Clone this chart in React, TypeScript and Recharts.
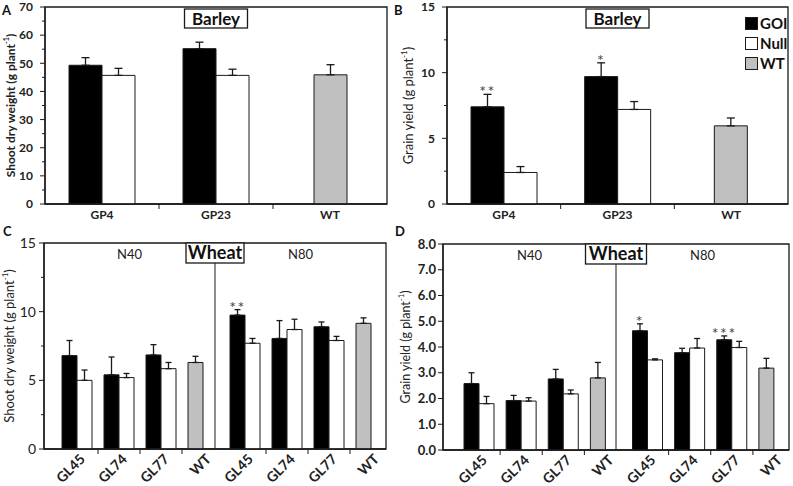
// Barley / wheat GOI vs null vs WT — four bar panels
import React from 'react';
import {
  BarChart, Bar, XAxis, YAxis, ErrorBar, LabelList, ReferenceArea, ReferenceLine, Cell, Legend,
} from 'recharts';

const FONT = 'Lato, "Noto Sans", sans-serif';
const INK = '#1a1a1a';
const GREY = '#c0c0c0';

// ---------- barley (A, B) ----------
const barleyLines = ['GP4', 'GP23', 'WT'];

const shootBarleyGoi = [49.3, 55.2, null];
const shootBarleyGoiSe = [2.7, 2.3, null];
const shootBarleyNull = [45.7, 45.7, null];
const shootBarleyNullSe = [2.5, 2.2, null];
const shootBarleyWt = [null, null, 45.9];
const shootBarleyWtSe = [null, null, 3.6];
const shootBarleySig = ['', '', ''];

const grainBarleyGoi = [7.4, 9.7, null];
const grainBarleyGoiSe = [0.95, 1.05, null];
const grainBarleyNull = [2.4, 7.2, null];
const grainBarleyNullSe = [0.45, 0.6, null];
const grainBarleyWt = [null, null, 5.95];
const grainBarleyWtSe = [null, null, 0.6];
const grainBarleySig = ['**', '*', ''];

// ---------- wheat (C, D) ----------
const wheatGroups = ['N40', 'N80'];
const wheatLines = ['GL45', 'GL74', 'GL77', 'WT'];

const shootWheatGoi = [6.8, 5.4, 6.85, null, 9.75, 8.05, 8.9, null];
const shootWheatGoiSe = [1.1, 1.3, 0.75, null, 0.4, 1.3, 0.35, null];
const shootWheatNull = [5.0, 5.2, 5.85, null, 7.7, 8.7, 7.9, null];
const shootWheatNullSe = [0.75, 0.3, 0.45, null, 0.35, 0.75, 0.3, null];
const shootWheatWt = [null, null, null, 6.3, null, null, null, 9.15];
const shootWheatWtSe = [null, null, null, 0.45, null, null, null, 0.4];
const shootWheatSig = ['', '', '', '', '**', '', '', ''];

const grainWheatGoi = [2.58, 1.92, 2.76, null, 4.63, 3.78, 4.28, null];
const grainWheatGoiSe = [0.42, 0.2, 0.37, null, 0.27, 0.17, 0.15, null];
const grainWheatNull = [1.8, 1.9, 2.18, null, 3.5, 3.96, 3.98, null];
const grainWheatNullSe = [0.28, 0.13, 0.15, null, 0.04, 0.37, 0.24, null];
const grainWheatWt = [null, null, null, 2.8, null, null, null, 3.18];
const grainWheatWtSe = [null, null, null, 0.6, null, null, null, 0.38];
const grainWheatSig = ['', '', '', '', '*', '', '***', ''];

const barleySeries = [
  { key: 'goi', name: 'GOI', fill: '#000000' },
  { key: 'nul', name: 'Null', fill: '#ffffff' },
  { key: 'wt', name: 'WT', fill: GREY },
];

// error bars only go up
const upOnly = (v: number | null) => (v == null ? undefined : [0, v]);

function barleyRows(goi, goiSe, nul, nulSe, wt, wtSe, sig) {
  return barleyLines.map((name, i) => ({
    key: name,
    label: name,
    goi: goi[i], goiSe: upOnly(goiSe[i]),
    nul: nul[i], nulSe: upOnly(nulSe[i]),
    wt: wt[i], wtSe: upOnly(wtSe[i]),
    starValue: goi[i], starSe: goiSe[i] ?? 0,
    sig: sig[i],
  }));
}

// WT sits in the GOI slot (grey) like the original spreadsheet
function wheatRows(goi, goiSe, nul, nulSe, wt, wtSe, sig) {
  return goi.map((_, i) => {
    const group = wheatGroups[Math.floor(i / wheatLines.length)];
    const line = wheatLines[i % wheatLines.length];
    const isWt = wt[i] != null;
    const left = isWt ? wt[i] : goi[i];
    const leftSe = isWt ? wtSe[i] : goiSe[i];
    return {
      key: `${group}-${line}`,
      label: line,
      isWt,
      left, leftSe: upOnly(leftSe),
      nul: nul[i], nulSe: upOnly(nulSe[i]),
      starValue: left, starSe: leftSe ?? 0,
      sig: sig[i],
    };
  });
}

const shootBarley = barleyRows(shootBarleyGoi, shootBarleyGoiSe, shootBarleyNull, shootBarleyNullSe, shootBarleyWt, shootBarleyWtSe, shootBarleySig);
const grainBarley = barleyRows(grainBarleyGoi, grainBarleyGoiSe, grainBarleyNull, grainBarleyNullSe, grainBarleyWt, grainBarleyWtSe, grainBarleySig);
const shootWheat = wheatRows(shootWheatGoi, shootWheatGoiSe, shootWheatNull, shootWheatNullSe, shootWheatWt, shootWheatWtSe, shootWheatSig);
const grainWheat = wheatRows(grainWheatGoi, grainWheatGoiSe, grainWheatNull, grainWheatNullSe, grainWheatWt, grainWheatWtSe, grainWheatSig);

const stepTicks = (max: number, step: number) => {
  const out: number[] = [];
  for (let i = 0; i * step <= max + 1e-9; i++) out.push(+(i * step).toFixed(3));
  return out;
};

// y tick: long mark + label on majors, short mark on minors
const yTick = (major: number, decimals: number, size: number, bold: boolean, gap: number) => (p: any) => {
  const v = p.payload.value;
  const isMajor = Math.abs(v / major - Math.round(v / major)) < 1e-6;
  return (
    <g>
      <line x1={p.x} x2={p.x - (isMajor ? 5 : 3)} y1={p.y} y2={p.y} stroke={INK} strokeWidth={1} />
      {isMajor && (
        <text x={p.x - gap} y={p.y} dy="0.36em" textAnchor="end" fontSize={size}
          fontWeight={bold ? 700 : 400} fontFamily={FONT} fill="#222">
          {v.toFixed(decimals)}
        </text>
      )}
    </g>
  );
};

const yLabel = (text: string, dx: number, size: number, bold: boolean) => (p: any) => {
  const vb = p.viewBox;
  const cx = vb.x + dx;
  const cy = vb.y + vb.height / 2;
  return (
    <text transform={`translate(${cx},${cy}) rotate(-90)`} textAnchor="middle" dominantBaseline="central"
      fontSize={size} fontWeight={bold ? 700 : 400} fontFamily={FONT} fill="#222">
      {text}
      <tspan dy={-4} fontSize={size * 0.62}>-1</tspan>
      <tspan dy={4}>)</tspan>
    </text>
  );
};

const stars = (rows: any[]) => (p: any) => {
  const vb = p.viewBox ?? p;
  const row = rows[p.index];
  if (!row || !row.sig || !row.starValue) return null;
  const perUnit = Math.abs(vb.height) / row.starValue;
  const capY = Math.min(vb.y, vb.y + vb.height) - row.starSe * perUnit;
  return (
    <text x={vb.x + vb.width / 2} y={capY + 3} textAnchor="middle" fontSize={16} letterSpacing={1.5}
      fontFamily={FONT} fill="#444">
      {row.sig}
    </text>
  );
};

const titleBox = (text: string, w: number, h: number, size: number, dy: number) => (p: any) => {
  const vb = p.viewBox;
  const cx = vb.x + (vb.width || 0) / 2;
  const top = vb.y + dy;
  return (
    <g>
      <rect x={cx - w / 2} y={top} width={w} height={h} fill="#fff" stroke={INK} strokeWidth={1.3} />
      <text x={cx} y={top + h / 2} dy="0.36em" textAnchor="middle" fontSize={size} fontWeight={700}
        fontFamily={FONT} fill="#111">{text}</text>
    </g>
  );
};

const legendList = (p: any) => (
  <div style={{ fontFamily: FONT, fontSize: 15, fontWeight: 700, color: '#111' }}>
    {(p.payload || []).map((it: any) => (
      <div key={it.value} style={{ display: 'flex', alignItems: 'center', height: 20 }}>
        <span style={{ width: 11, height: 11, background: it.color, border: `1px solid ${INK}`, marginRight: 2 }} />
        <span>{it.value}</span>
      </div>
    ))}
  </div>
);

function BarleyPanel({ x, y, w, h, m, rows, yMax, yStep, major, tickSize, tickGap, label, labelDx, labelSize, labelBold, legend }: any) {
  const plotW = w - m.left - m.right;
  const n = rows.length;
  const band = plotW / n;
  const xTick = (p: any) => {
    const i = p.index ?? p.payload.index;
    return (
      <g>
        {i < n - 1 && <line x1={p.x + band / 2} x2={p.x + band / 2} y1={p.y} y2={p.y + 5} stroke={INK} />}
        <text x={p.x} y={p.y + 15} textAnchor="middle" fontSize={12} fontWeight={700} fontFamily={FONT} fill="#222">
          {p.payload.value}
        </text>
      </g>
    );
  };
  return (
    <div style={{ position: 'absolute', left: x, top: y }}>
      <BarChart width={w} height={h} data={rows} barGap={0}
        margin={{ top: m.top, right: m.right, left: 0, bottom: 0 }}>
        <XAxis xAxisId="cat" dataKey="key" height={m.bottom} interval={0} tickLine={false} tickSize={0}
          tickMargin={0} axisLine={{ stroke: INK, strokeWidth: 1.3 }} tick={xTick} />
        <XAxis xAxisId="wt" dataKey="key" hide />
        <YAxis width={m.left} domain={[0, yMax]} ticks={stepTicks(yMax, yStep)} interval={0} tickLine={false}
          tickSize={0} tickMargin={0} axisLine={{ stroke: INK, strokeWidth: 1.3 }}
          tick={yTick(major, 0, tickSize, true, tickGap)} label={yLabel(label, labelDx, labelSize, labelBold)} />
        <ReferenceArea xAxisId="wt" x1={rows[0].key} x2={rows[n - 1].key} y1={0} y2={yMax} fill="none"
          fillOpacity={0} stroke={INK} strokeWidth={1.3} ifOverflow="visible"
          label={titleBox('Barley', 63, 19, 17, 2)} />
        {barleySeries.map((s) => (
          <Bar key={s.key} xAxisId={s.key === 'wt' ? 'wt' : 'cat'} dataKey={s.key} name={s.name} fill={s.fill}
            stroke={INK} strokeWidth={1} barSize={33} isAnimationActive={false}>
            <ErrorBar dataKey={`${s.key}Se`} width={4} stroke={INK} strokeWidth={1.3} direction="y" />
            {s.key === 'goi' && <LabelList content={stars(rows)} />}
          </Bar>
        ))}
        {legend && (
          <Legend layout="vertical" align="center" verticalAlign="middle" content={legendList}
            wrapperStyle={{ left: 350, top: 13, width: 50, height: 62 }} />
        )}
      </BarChart>
    </div>
  );
}

function WheatPanel({ x, y, w, h, m, pad, rows, yMax, yStep, major, decimals, tickSize, tickBold, tickGap, label, labelDx, labelSize, boxW }: any) {
  const plotW = w - m.left - m.right;
  const n = rows.length;
  const per = wheatLines.length;
  const band = (plotW - pad.left - pad.right) / n;
  const xTick = (p: any) => {
    const i = p.index ?? p.payload.index;
    const row = rows[i];
    return (
      <g>
        {i % per !== per - 1 && (
          <line x1={p.x + band / 2} x2={p.x + band / 2} y1={p.y} y2={p.y + 5} stroke={INK} />
        )}
        <text transform={`translate(${p.x + 9},${p.y + 11}) rotate(-45)`} textAnchor="end" fontSize={14}
          fontWeight={700} fontFamily={FONT} fill="#222">
          {row ? row.label : ''}
        </text>
      </g>
    );
  };
  const groupKey = (g: string, line: string) => `${g}-${line}`;
  return (
    <div style={{ position: 'absolute', left: x, top: y }}>
      <BarChart width={w} height={h} data={rows} barGap={0}
        margin={{ top: m.top, right: m.right, left: 0, bottom: 0 }}>
        <XAxis xAxisId="cat" dataKey="key" height={m.bottom} padding={pad} interval={0} tickLine={false}
          tickSize={0} tickMargin={0} axisLine={{ stroke: INK, strokeWidth: 1.3 }} tick={xTick} />
        <XAxis xAxisId="grp" dataKey="key" hide />
        <YAxis width={m.left} domain={[0, yMax]} ticks={stepTicks(yMax, yStep)} interval={0} tickLine={false}
          tickSize={0} tickMargin={0} axisLine={{ stroke: INK, strokeWidth: 1.3 }}
          tick={yTick(major, decimals, tickSize, tickBold, tickGap)} label={yLabel(label, labelDx, labelSize, false)} />
        <ReferenceArea xAxisId="grp" x1={rows[0].key} x2={rows[n - 1].key} y1={0} y2={yMax} fill="none"
          fillOpacity={0} stroke={INK} strokeWidth={1.3} ifOverflow="visible" />
        {wheatGroups.map((g) => (
          <ReferenceArea key={g} xAxisId="grp" x1={groupKey(g, wheatLines[0])} x2={groupKey(g, wheatLines[per - 1])}
            y1={0} y2={yMax} fill="none" fillOpacity={0} stroke="none" ifOverflow="visible"
            label={{ value: g, position: 'insideTop', offset: 7, fontSize: 13, fill: '#222', fontFamily: FONT }} />
        ))}
        <ReferenceLine xAxisId="grp" x={groupKey(wheatGroups[0], wheatLines[per - 1])} position="end"
          stroke={INK} strokeWidth={1} ifOverflow="visible" label={titleBox('Wheat', boxW, 20, 18, 0)} />
        <Bar xAxisId="cat" dataKey="left" name="GOI" fill="#000000" stroke={INK} strokeWidth={1} barSize={15}
          isAnimationActive={false}>
          {rows.map((r: any) => <Cell key={r.key} fill={r.isWt ? GREY : '#000000'} />)}
          <ErrorBar dataKey="leftSe" width={3} stroke={INK} strokeWidth={1.3} direction="y" />
          <LabelList content={stars(rows)} />
        </Bar>
        <Bar xAxisId="cat" dataKey="nul" name="Null" fill="#ffffff" stroke={INK} strokeWidth={1} barSize={15}
          isAnimationActive={false}>
          <ErrorBar dataKey="nulSe" width={3} stroke={INK} strokeWidth={1.3} direction="y" />
        </Bar>
      </BarChart>
    </div>
  );
}

const letter = (t: string, x: number, y: number) => (
  <div style={{ position: 'absolute', left: x, top: y, fontFamily: FONT, fontWeight: 700, fontSize: 13, lineHeight: '13px', color: '#111' }}>{t}</div>
);

export default function App() {
  return (
    <div style={{ position: 'absolute', left: 0, top: 0, width: 793, height: 486, background: '#fff', overflow: 'hidden' }}>
      <BarleyPanel x={0} y={0} w={395} h={230} m={{ top: 7, right: 8, left: 45, bottom: 26 }}
        rows={shootBarley} yMax={70} yStep={5} major={10} tickSize={12} tickGap={12}
        label="Shoot dry weight (g plant" labelDx={10} labelSize={12} labelBold />
      <BarleyPanel x={395} y={0} w={398} h={230} m={{ top: 7, right: 5, left: 52, bottom: 26 }}
        rows={grainBarley} yMax={15} yStep={2.5} major={5} tickSize={12} tickGap={12}
        label="Grain yield (g plant" labelDx={13} labelSize={13} labelBold={false} legend />
      <WheatPanel x={0} y={230} w={395} h={256} m={{ top: 13, right: 9, left: 44, bottom: 37 }}
        pad={{ left: 12, right: -6 }} rows={shootWheat} yMax={15} yStep={2.5} major={5} decimals={0}
        tickSize={14} tickBold={false} tickGap={8}
        label="Shoot dry weight (g plant" labelDx={9} labelSize={13} boxW={58} />
      <WheatPanel x={395} y={230} w={398} h={256} m={{ top: 14, right: 4, left: 48, bottom: 36 }}
        pad={{ left: 15, right: -6 }} rows={grainWheat} yMax={8} yStep={1} major={1} decimals={1}
        tickSize={13} tickBold tickGap={7}
        label="Grain yield (g plant" labelDx={10} labelSize={12.5} boxW={61} />
      {letter('A', 2, 4)}
      {letter('B', 394, 4)}
      {letter('C', 3, 225)}
      {letter('D', 395, 225)}
    </div>
  );
}
